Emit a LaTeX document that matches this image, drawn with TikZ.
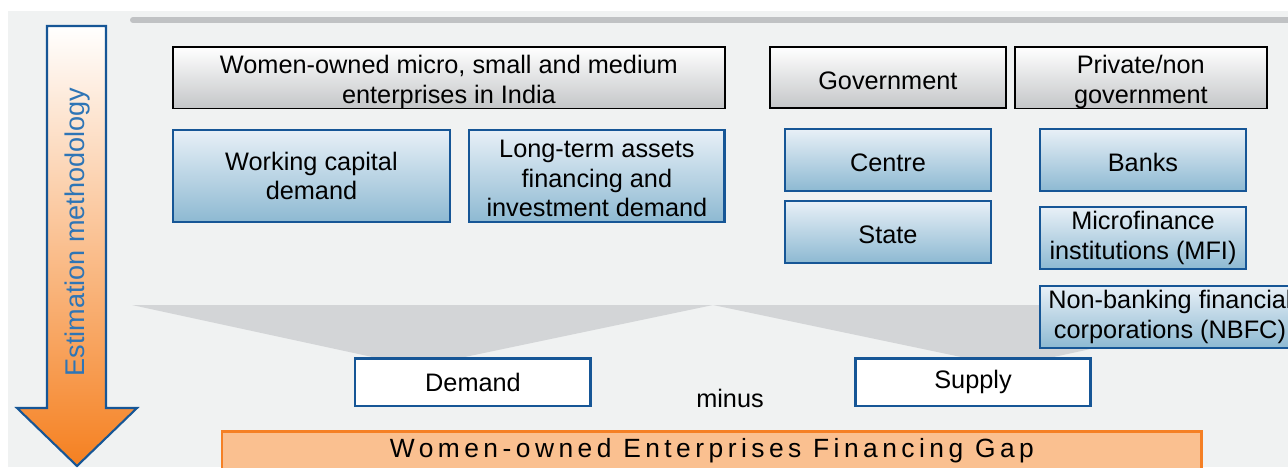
\documentclass[tikz,border=0pt]{standalone}
\usepackage{fontspec}
\setmainfont{Liberation Sans}
\newfontfamily\gapfont[LetterSpace=17]{Liberation Sans}
\usetikzlibrary{positioning}
\definecolor{panelgrey}{RGB}{240,242,242}
\definecolor{bargrey}{RGB}{192,194,196}
\definecolor{funnelgrey}{RGB}{211,213,215}
\definecolor{headgrey}{RGB}{196,198,200}
\definecolor{boxblue}{RGB}{22,86,150}
\definecolor{lightblue}{RGB}{232,240,247}
\definecolor{midblue}{RGB}{141,185,210}
\definecolor{arroworange}{RGB}{245,128,32}
\definecolor{gaporange}{RGB}{245,128,37}
\definecolor{gappeach}{RGB}{250,192,144}
\definecolor{labelblue}{RGB}{46,117,182}
\newcommand{\topstrut}[1][13.5pt]{\rule{0pt}{#1}} % pushes text a little down in its box
\tikzset{
x=0.02cm, y=-0.02cm, % one unit is one pixel of the layout, y runs down
every node/.style={font=\fontsize{14.4}{17}\selectfont, inner sep=0pt, outer sep=0pt, align=center},
headbox/.style={draw=black, line width=0.9pt, top color=white, bottom color=headgrey, minimum height=1.22cm}, % grey heading boxes
itembox/.style={draw=boxblue, line width=1.6pt, top color=lightblue, bottom color=midblue, minimum width=4.12cm, minimum height=1.24cm}, % blue boxes
sidebox/.style={draw=boxblue, line width=1.7pt, fill=white, minimum width=4.72cm, minimum height=0.96cm}, % demand and supply
gapbox/.style={draw=gaporange, line width=1.7pt, fill=gappeach, minimum width=19.6cm, minimum height=0.78cm, font=\gapfont\fontsize{15}{18}\selectfont}, % the result
}
\begin{document}
\begin{tikzpicture}
        \clip (0,0) rectangle (1288,467);
        % background panel and top bar
        \fill[panelgrey] (8,11) rectangle (1288,467);
        \draw[bargrey, line width=3.4pt, line cap=round] (133,20) -- (1300,20);
        % funnels down to demand and supply
        \fill[funnelgrey] (132,305) -- (713,305) -- (460,358) -- (377,358) -- cycle;
        \fill[funnelgrey] (713,305) -- (1294,305) -- (1049,358) -- (966,358) -- cycle;
        % big arrow on the left
        \draw[boxblue, line width=1.2pt, top color=white, bottom color=arroworange]
        (47,26) -- (106,26) -- (106,408) -- (137,408) -- (77,466) -- (17,408) -- (47,408) -- cycle;
        \node[rotate=90, text=labelblue, font=\fontsize{15.4}{18}\selectfont] (method) at (78,232) {Estimation methodology};

        \node[headbox, anchor=north west, minimum width=11.04cm] (women) at (173,47) {\topstrut[15pt]Women-owned micro, small and medium\\enterprises in India};
        \node[headbox, minimum width=4.72cm, right=0.9cm of women] (gov) {\topstrut Government};
        \node[headbox, minimum width=5.04cm, right=0.18cm of gov] (private) {\topstrut[15pt]Private/non\\government};

        \node[itembox, anchor=north west, minimum width=5.54cm, minimum height=1.84cm] (working) at (173,130) {Working capital\\demand};
        \node[itembox, minimum width=5.12cm, minimum height=1.84cm, right=0.38cm of working] (longterm) {\topstrut[12.7pt]Long-term assets\\financing and\\investment demand};

        \node[itembox, anchor=north west] (centre) at (785,129) {\topstrut Centre};
        \node[itembox, below=0.2cm of centre] (state) {\topstrut State};
        \node[itembox, anchor=north west] (banks) at (1040,129) {\topstrut Banks};
        \node[itembox, below=0.32cm of banks] (mfi) {Microfinance\\institutions (MFI)};
        \node[itembox, minimum width=5.2cm, below=0.34cm of mfi.south west, anchor=north west] (nbfc) {Non-banking financial\\corporations (NBFC)};

        \node[sidebox, anchor=north west] (demand) at (355,358) {Demand};
        \node[sidebox, anchor=north west] (supply) at (855,358) {Supply};
        \node[anchor=base] (minus) at (730,407) {minus};
        \node[gapbox, anchor=north west] (gap) at (222,431) {Women-owned Enterprises Financing Gap};
\end{tikzpicture}
\end{document}
